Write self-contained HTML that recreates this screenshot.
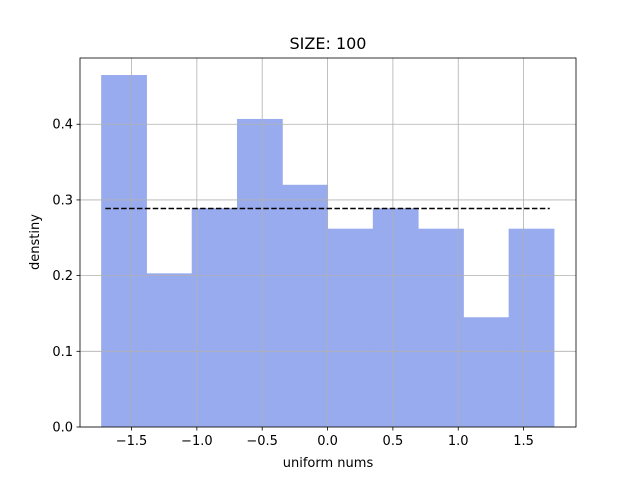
<!DOCTYPE html>
<html><head><meta charset="utf-8"><style>body{margin:0;background:#fff}svg{display:block;font-family:"DejaVu Sans","Liberation Sans",sans-serif}</style></head>
<body>
<svg id="c" width="640" height="480"></svg>
<script>
const counts=[16,7,10,14,11,9,10,9,5,9];
const densities=[0.465,0.203,0.289,0.407,0.320,0.262,0.289,0.262,0.145,0.262];
const xTicks=[-1.5,-1.0,-0.5,0.0,0.5,1.0,1.5];
const xTickLabels=["−1.5","−1.0","−0.5","0.0","0.5","1.0","1.5"];
const yTicks=[0,0.1,0.2,0.3,0.4];
const yTickLabels=["0.0","0.1","0.2","0.3","0.4"];
const lo=-Math.sqrt(3), hi=Math.sqrt(3);
const refDensity=[0.2887];
const L=80,R=576,T=58,B=427;
const x0=-1.894,x1=1.901,y0=0,y1=0.4875;
const sx=v=>L+(v-x0)/(x1-x0)*(R-L);
const sy=v=>B-(v-y0)/(y1-y0)*(B-T);
const svg=document.getElementById('c');
const NS='http://www.w3.org/2000/svg';
function mk(tag,attrs,parent){const e=document.createElementNS(NS,tag);for(const k in attrs)e.setAttribute(k,attrs[k]);(parent||svg).appendChild(e);return e;}
// bars
const w=(hi-lo)/densities.length;
densities.forEach((d,i)=>{const a=lo+i*w;const r=mk('rect',{x:sx(a),y:sy(d),width:sx(a+w)-sx(a)+0.5,height:sy(0)-sy(d),fill:'#98abee'});

});
// grid
xTicks.forEach(t=>{const g=mk('line',{x1:sx(t),x2:sx(t),y1:T,y2:B,stroke:'#b0b0b0','stroke-width':0.8});

});
yTicks.forEach(t=>{const g=mk('line',{x1:L,x2:R,y1:sy(t),y2:sy(t),stroke:'#b0b0b0','stroke-width':0.8});

});
// reference line
const ln=mk('line',{x1:sx(-1.7),x2:sx(1.7),y1:sy(refDensity[0]),y2:sy(refDensity[0]),stroke:'#000','stroke-width':1.5,'stroke-dasharray':'5.5,2.4'});


// frame
const f=mk('rect',{x:L,y:T,width:R-L,height:B-T,fill:'none',stroke:'#000','stroke-width':0.8});


xTicks.forEach((t,i)=>{mk('line',{x1:sx(t),x2:sx(t),y1:B,y2:B+3.5,stroke:'#000','stroke-width':0.8});
const tx=mk('text',{x:sx(t),y:B+18,'text-anchor':'middle','font-size':13,fill:'#000'});tx.textContent=xTickLabels[i];

});
yTicks.forEach((t,i)=>{mk('line',{x1:L-3.5,x2:L,y1:sy(t),y2:sy(t),stroke:'#000','stroke-width':0.8});
const tx=mk('text',{x:L-7,y:sy(t)+4.5,'text-anchor':'end','font-size':13,fill:'#000'});tx.textContent=yTickLabels[i];

});
</script>
<script>
(function(){const svg=document.getElementById('c');const NS='http://www.w3.org/2000/svg';
const t=document.createElementNS(NS,'text');t.setAttribute('x',328);t.setAttribute('y',49);t.setAttribute('text-anchor','middle');t.setAttribute('font-size',16);t.textContent='SIZE: 100';

svg.appendChild(t);
const xl=document.createElementNS(NS,'text');xl.setAttribute('x',328);xl.setAttribute('y',467);xl.setAttribute('text-anchor','middle');xl.setAttribute('font-size',13);xl.textContent='uniform nums';

svg.appendChild(xl);
const yl=document.createElementNS(NS,'text');yl.setAttribute('transform','translate(39,242) rotate(-90)');yl.setAttribute('text-anchor','middle');yl.setAttribute('font-size',13);yl.textContent='denstiny';

svg.appendChild(yl);})();
</script>
</body></html>
